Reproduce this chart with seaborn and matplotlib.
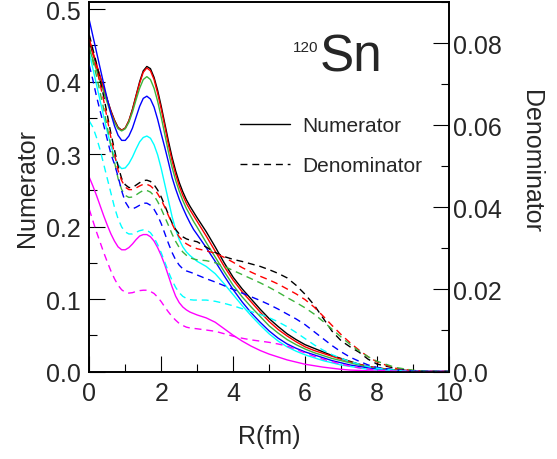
import numpy as np
import pandas as pd
import matplotlib
matplotlib.use("Agg")
import matplotlib.pyplot as plt
import seaborn as sns
from matplotlib.lines import Line2D
from matplotlib.ticker import MultipleLocator

# ---------------- data ----------------
R = [0.0, 0.1, 0.2, 0.3, 0.4, 0.5, 0.6, 0.7, 0.8, 0.9,
     1.0, 1.1, 1.2, 1.3, 1.4, 1.5, 1.6, 1.7, 1.8, 1.9,
     2.0, 2.1, 2.2, 2.3, 2.4, 2.5, 2.6, 2.7, 2.8, 2.9,
     3.0, 3.25, 3.5, 3.75, 4.0, 4.25, 4.5, 4.75, 5.0, 5.25,
     5.5, 5.75, 6.0, 6.25, 6.5, 6.75, 7.0, 7.25, 7.5, 7.75,
     8.0, 8.5, 9.0, 9.5, 10.0]

series_names = ["black", "red", "green", "blue", "cyan", "magenta"]

# Numerator (left axis)
num_black = [0.455, 0.439, 0.423, 0.407, 0.391, 0.375, 0.360, 0.347, 0.337, 0.333,
             0.336, 0.346, 0.362, 0.381, 0.400, 0.415, 0.421, 0.418, 0.406, 0.388,
             0.366, 0.342, 0.318, 0.296, 0.277, 0.261, 0.248, 0.237, 0.228, 0.220,
             0.212, 0.193, 0.172, 0.150, 0.130, 0.114, 0.100, 0.086, 0.073, 0.062,
             0.052, 0.044, 0.037, 0.032, 0.027, 0.022, 0.018, 0.014, 0.010, 0.007,
             0.005, 0.002, 0.001, 0.0, 0.0]
num_red = [0.458, 0.441, 0.424, 0.407, 0.391, 0.375, 0.359, 0.346, 0.336, 0.333,
           0.336, 0.346, 0.361, 0.380, 0.398, 0.413, 0.419, 0.415, 0.403, 0.384,
           0.362, 0.338, 0.313, 0.291, 0.272, 0.256, 0.243, 0.232, 0.223, 0.215,
           0.207, 0.187, 0.166, 0.145, 0.126, 0.110, 0.096, 0.082, 0.069, 0.058,
           0.049, 0.041, 0.034, 0.029, 0.025, 0.021, 0.017, 0.013, 0.010, 0.007,
           0.005, 0.002, 0.001, 0.0, 0.0]
num_green = [0.445, 0.431, 0.416, 0.401, 0.386, 0.371, 0.356, 0.344, 0.335, 0.332,
             0.335, 0.344, 0.358, 0.375, 0.391, 0.403, 0.407, 0.403, 0.391, 0.373,
             0.351, 0.327, 0.303, 0.282, 0.264, 0.249, 0.236, 0.225, 0.216, 0.207,
             0.199, 0.178, 0.158, 0.138, 0.119, 0.103, 0.089, 0.076, 0.063, 0.053,
             0.044, 0.037, 0.031, 0.026, 0.022, 0.018, 0.015, 0.012, 0.009, 0.006,
             0.004, 0.002, 0.001, 0.0, 0.0]
num_blue = [0.485, 0.463, 0.441, 0.419, 0.397, 0.376, 0.356, 0.339, 0.326, 0.319,
            0.319, 0.325, 0.336, 0.351, 0.366, 0.377, 0.380, 0.376, 0.365, 0.348,
            0.328, 0.309, 0.289, 0.268, 0.252, 0.238, 0.226, 0.215, 0.205, 0.196,
            0.189, 0.171, 0.152, 0.132, 0.113, 0.096, 0.081, 0.068, 0.056, 0.046,
            0.038, 0.032, 0.027, 0.023, 0.019, 0.015, 0.012, 0.009, 0.007, 0.005,
            0.003, 0.001, 0.0005, 0.0, 0.0]
num_cyan = [0.440, 0.418, 0.396, 0.374, 0.352, 0.331, 0.312, 0.296, 0.285, 0.280,
            0.281, 0.287, 0.296, 0.307, 0.317, 0.323, 0.325, 0.322, 0.313, 0.299,
            0.280, 0.258, 0.236, 0.214, 0.196, 0.182, 0.172, 0.165, 0.160, 0.156,
            0.152, 0.145, 0.135, 0.121, 0.106, 0.091, 0.077, 0.064, 0.052, 0.042,
            0.034, 0.028, 0.023, 0.019, 0.015, 0.012, 0.009, 0.007, 0.005, 0.003,
            0.002, 0.001, 0.0, 0.0, 0.0]
num_magenta = [0.268, 0.256, 0.243, 0.229, 0.215, 0.202, 0.190, 0.180, 0.172, 0.168,
               0.168, 0.171, 0.176, 0.182, 0.187, 0.189, 0.189, 0.186, 0.180, 0.171,
               0.160, 0.147, 0.132, 0.117, 0.104, 0.095, 0.089, 0.085, 0.082, 0.080,
               0.078, 0.074, 0.068, 0.059, 0.050, 0.042, 0.035, 0.029, 0.024, 0.020,
               0.016, 0.013, 0.010, 0.008, 0.006, 0.0045, 0.003, 0.002, 0.0015, 0.001,
               0.0005, 0.0, 0.0, 0.0, 0.0]

# Denominator (right axis)
den_black = [0.0820, 0.0785, 0.0750, 0.0710, 0.0670, 0.0625, 0.0580, 0.0540, 0.0500, 0.0470,
             0.0455, 0.0448, 0.0448, 0.0454, 0.0460, 0.0465, 0.0466, 0.0463, 0.0455, 0.0442,
             0.0425, 0.0404, 0.0382, 0.0362, 0.0346, 0.0335, 0.0328, 0.0323, 0.0320, 0.0318,
             0.0316, 0.0303, 0.0290, 0.0280, 0.0273, 0.0268, 0.0262, 0.0256, 0.0248, 0.0239,
             0.0228, 0.0210, 0.0188, 0.0162, 0.0130, 0.0098, 0.0075, 0.0060, 0.0047, 0.0030,
             0.0018, 0.0008, 0.0002, 0.0, 0.0]
den_red = [0.0810, 0.0775, 0.0740, 0.0700, 0.0660, 0.0615, 0.0570, 0.0530, 0.0490, 0.0465,
           0.0449, 0.0443, 0.0443, 0.0447, 0.0452, 0.0456, 0.0456, 0.0452, 0.0444, 0.0433,
           0.0418, 0.0400, 0.0380, 0.0360, 0.0342, 0.0328, 0.0318, 0.0311, 0.0306, 0.0302,
           0.0299, 0.0294, 0.0288, 0.0278, 0.0266, 0.0253, 0.0242, 0.0232, 0.0223, 0.0213,
           0.0201, 0.0189, 0.0175, 0.0157, 0.0135, 0.0112, 0.0090, 0.0070, 0.0052, 0.0036,
           0.0023, 0.0008, 0.0002, 0.0, 0.0]
den_green = [0.0790, 0.0755, 0.0720, 0.0680, 0.0640, 0.0595, 0.0550, 0.0510, 0.0470, 0.0443,
             0.0429, 0.0424, 0.0425, 0.0430, 0.0436, 0.0441, 0.0441, 0.0437, 0.0428, 0.0414,
             0.0396, 0.0376, 0.0356, 0.0335, 0.0317, 0.0302, 0.0291, 0.0283, 0.0277, 0.0274,
             0.0272, 0.0270, 0.0265, 0.0256, 0.0246, 0.0236, 0.0226, 0.0216, 0.0205, 0.0193,
             0.0180, 0.0168, 0.0155, 0.0140, 0.0122, 0.0103, 0.0084, 0.0066, 0.0050, 0.0036,
             0.0025, 0.0010, 0.0003, 0.0, 0.0]
den_blue = [0.0746, 0.0710, 0.0670, 0.0635, 0.0600, 0.0565, 0.0530, 0.0505, 0.0475, 0.0440,
            0.0413, 0.0399, 0.0396, 0.0400, 0.0405, 0.0410, 0.0410, 0.0405, 0.0395, 0.0380,
            0.0360, 0.0336, 0.0312, 0.0290, 0.0272, 0.0259, 0.0250, 0.0245, 0.0242, 0.0239,
            0.0235, 0.0226, 0.0218, 0.0209, 0.0200, 0.0191, 0.0182, 0.0173, 0.0163, 0.0152,
            0.0140, 0.0128, 0.0114, 0.0097, 0.0080, 0.0063, 0.0048, 0.0035, 0.0025, 0.0016,
            0.0010, 0.0004, 0.0001, 0.0, 0.0]
den_cyan = [0.0610, 0.0595, 0.0570, 0.0540, 0.0505, 0.0470, 0.0435, 0.0400, 0.0372, 0.0352,
            0.0340, 0.0335, 0.0335, 0.0339, 0.0343, 0.0345, 0.0344, 0.0338, 0.0326, 0.0309,
            0.0289, 0.0266, 0.0243, 0.0222, 0.0205, 0.0192, 0.0183, 0.0178, 0.0175, 0.0174,
            0.0174, 0.0174, 0.0171, 0.0166, 0.0160, 0.0153, 0.0146, 0.0139, 0.0131, 0.0121,
            0.0109, 0.0095, 0.0080, 0.0065, 0.0052, 0.0041, 0.0032, 0.0024, 0.0018, 0.0012,
            0.0008, 0.0003, 0.0, 0.0, 0.0]
den_magenta = [0.0395, 0.0367, 0.0340, 0.0315, 0.0290, 0.0267, 0.0245, 0.0226, 0.0210, 0.0199,
               0.0193, 0.0191, 0.0192, 0.0195, 0.0197, 0.0198, 0.0198, 0.0195, 0.0190, 0.0181,
               0.0170, 0.0157, 0.0145, 0.0134, 0.0125, 0.0117, 0.0112, 0.0108, 0.0106, 0.0105,
               0.0104, 0.0101, 0.0098, 0.0092, 0.0086, 0.0081, 0.0077, 0.0074, 0.0071, 0.0067,
               0.0062, 0.0054, 0.0045, 0.0037, 0.0030, 0.0024, 0.0018, 0.0013, 0.0009, 0.0006,
               0.0003, 0.0001, 0.0, 0.0, 0.0]

x_ticks = [0, 2, 4, 6, 8, 10]
left_ticks = [0.0, 0.1, 0.2, 0.3, 0.4, 0.5]
left_labels = ["0.0", "0.1", "0.2", "0.3", "0.4", "0.5"]
right_ticks = [0.0, 0.02, 0.04, 0.06, 0.08]
right_labels = ["0.0", "0.02", "0.04", "0.06", "0.08"]

colors = {"black": "#000000", "red": "#ff0000", "green": "#3cb43c",
          "blue": "#0000ff", "cyan": "#00ffff", "magenta": "#ff00ff"}

num_all = [num_black, num_red, num_green, num_blue, num_cyan, num_magenta]
den_all = [den_black, den_red, den_green, den_blue, den_cyan, den_magenta]

num_df = pd.concat([pd.DataFrame({"R": R, "value": v, "series": n})
                    for n, v in zip(series_names, num_all)], ignore_index=True)
den_df = pd.concat([pd.DataFrame({"R": R, "value": v, "series": n})
                    for n, v in zip(series_names, den_all)], ignore_index=True)

# ---------------- figure ----------------
sns.set_style("ticks")
plt.rcParams["font.family"] = ["Liberation Sans", "DejaVu Sans"]

W, H = 557, 460
fig = plt.figure(figsize=(W / 100, H / 100), dpi=100)
ax = fig.add_axes([89.3 / W, 1 - 372.5 / H, (449 - 89.3) / W, (372.5 - 3) / H])
ax2 = ax.twinx()

sns.lineplot(data=num_df, x="R", y="value", hue="series", palette=colors,
             hue_order=series_names, estimator=None, ax=ax, legend=False,
             linewidth=1.0)
sns.lineplot(data=den_df, x="R", y="value", hue="series", palette=colors,
             hue_order=series_names, estimator=None, ax=ax2, legend=False,
             linewidth=1.0, linestyle=(0, (5, 3.5)))

ax.set_xlim(0, 10)
ax.set_ylim(0, 0.51)
ax2.set_ylim(0, 0.09)

ax.set_xticks(x_ticks)
ax.set_xticklabels([str(t) for t in x_ticks])
ax.xaxis.set_minor_locator(MultipleLocator(1))
ax.set_yticks(left_ticks)
ax.set_yticklabels(left_labels)
ax.yaxis.set_minor_locator(MultipleLocator(0.05))
ax2.set_yticks(right_ticks)
ax2.set_yticklabels(right_labels)
ax2.yaxis.set_minor_locator(MultipleLocator(0.01))

for a in (ax, ax2):
    a.tick_params(which="major", direction="in", length=11.5, width=0.8,
                  labelsize=18, color="black")
    a.tick_params(which="minor", direction="in", length=6, width=0.8,
                  color="black")
    for sp in a.spines.values():
        sp.set_visible(True)
        sp.set_linewidth(1.2)
        sp.set_color("black")
ax.tick_params(axis="x", which="both", top=False, pad=7)
ax.tick_params(axis="y", which="both", right=False, pad=6)
ax2.tick_params(axis="y", which="both", left=False, right=True, pad=3)

ax.set_xlabel("")
ax.set_ylabel("")
ax2.set_ylabel("")
fig.text(269 / W, 1 - 437 / H, "R(fm)", fontsize=18, ha="center", va="center")
fig.text(27 / W, 1 - 188 / H, "Numerator", fontsize=18, rotation=90,
         ha="center", va="center")
fig.text(531 / W, 1 - 162 / H, "Denominator", fontsize=18, rotation=-90,
         ha="center", va="center")

# title
fig.text(318 / W, 1 - 52 / H, "120", fontsize=11, ha="right", va="baseline")
fig.text(320 / W, 1 - 72 / H, "Sn", fontsize=37, ha="left", va="baseline")

# legend
handles = [Line2D([], [], color="black", lw=1.0),
           Line2D([], [], color="black", lw=1.0, linestyle=(0, (5, 3.5)))]
leg = ax.legend(handles, ["Numerator", "Denominator"], loc="upper left",
                bbox_to_anchor=(240 / W, 1 - 117 / H),
                bbox_transform=fig.transFigure, frameon=False, fontsize=15,
                handlelength=2.4, handletextpad=0.6, labelspacing=1.0,
                borderpad=0, borderaxespad=0)

fig.savefig("out.png", dpi=100)
